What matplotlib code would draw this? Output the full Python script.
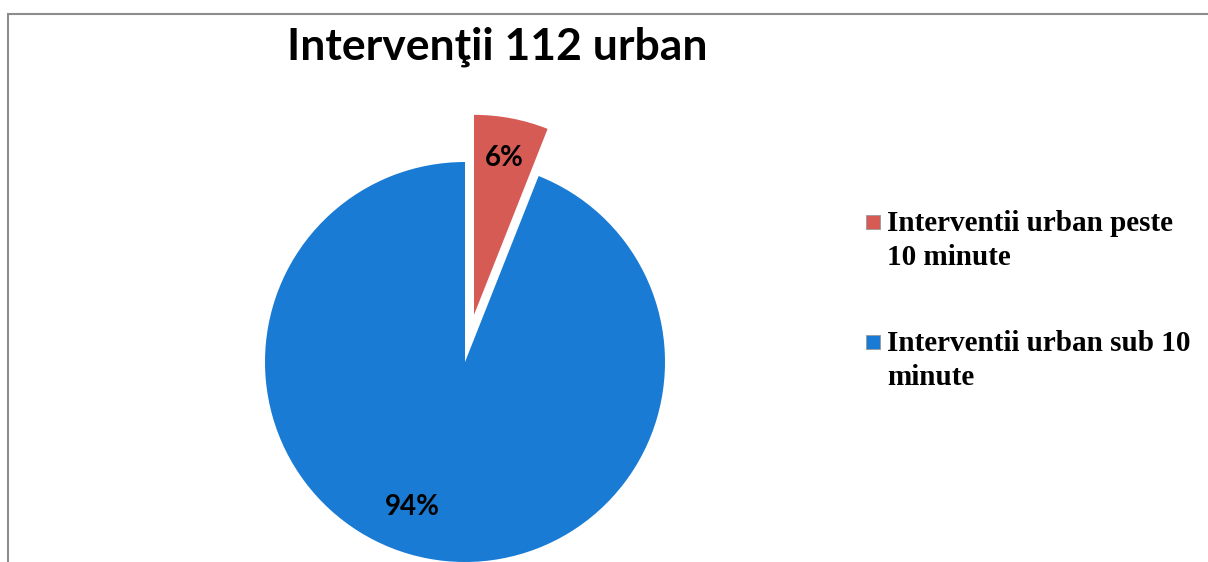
import numpy as np
import matplotlib.pyplot as plt
from matplotlib.patches import Rectangle

# data
labels = ['Interventii urban peste\n10 minute', 'Interventii urban sub 10\nminute']
values = [6, 94]
colors = ['#D65B55', '#1A7BD4']
explode = [0.24, 0]
title = 'Intervenţii 112 urban'

W, H = 1208, 562
fig = plt.figure(figsize=(W / 100, H / 100), dpi=100)

# axes placed so the pie center sits at pixel (465, 362) with radius 200 px
ax = fig.add_axes([215 / W, 0, 500 / W, 500 / H])
wedges, texts, autotexts = ax.pie(values, colors=colors, explode=explode,
                                  startangle=90, counterclock=False,
                                  autopct='%1.0f%%', pctdistance=0.8,
                                  wedgeprops=dict(linewidth=0),
                                  textprops=dict(fontsize=20, fontweight='bold',
                                                 family='Lato', color='black'))
# Excel puts the big slice's label a bit further round
ang = np.deg2rad(-110)
autotexts[1].set_position((0.77 * np.cos(ang), 0.77 * np.sin(ang)))
ax.set_aspect('auto')
ax.set_xlim(-1.25, 1.25)
ax.set_ylim(-1.0, 1.5)
ax.axis('off')

fig.text(497 / W, 1 - 47 / H, title, fontsize=32, fontweight='bold',
         family='Lato', ha='center', va='center')

# legend drawn by hand: marker aligned with the first line of each label
for i, lab in enumerate(labels):
    y_top = 1 - (215 + i * 120) / H
    fig.add_artist(Rectangle((866 / W, y_top - 14 / H), 14 / W, 14 / H,
                             transform=fig.transFigure, facecolor=colors[i],
                             edgecolor='#999999', linewidth=0.6))
    fig.text(887 / W, y_top + 5 / H, lab, fontsize=21, fontweight='bold',
             family='Liberation Serif', ha='left', va='top', linespacing=1.35)

# chart border (only top and left visible)
fig.add_artist(Rectangle((8 / W, -0.1), 1.2, 1 - 14 / H + 0.1,
                         transform=fig.transFigure, fill=False,
                         edgecolor='#8c8c8c', linewidth=1.5))

fig.savefig('out.png', dpi=100)
